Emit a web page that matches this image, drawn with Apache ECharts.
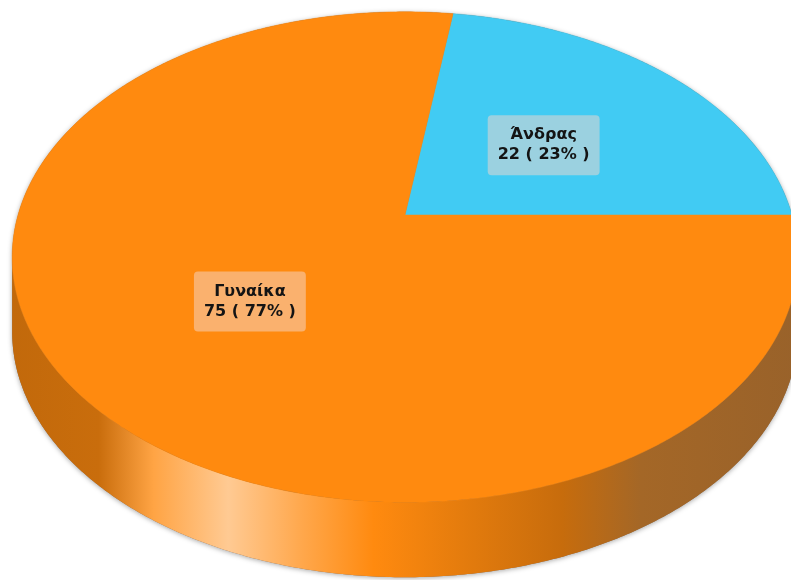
<!DOCTYPE html>
<html>
<head>
<meta charset="utf-8">
<script src="https://cdn.jsdelivr.net/npm/echarts/dist/echarts.min.js"></script>
<style>
  html, body { margin: 0; padding: 0; background: #ffffff; }
  #chart { width: 791px; height: 580px; }
</style>
</head>
<body>
<div id="chart"></div>
<script>
// Slice data
const categories = ['Άνδρας', 'Γυναίκα'];
const values = [22, 75];
const sliceColors = ['#41CBF3', '#FF8A0F'];

// Angular layout: counter-clockwise from 3 o'clock
const total = values.reduce((a, b) => a + b, 0);
const startAngle = 0;
const starts = [];
const spans = values.map(v => v / total * 360);
(function () { let a = startAngle; spans.forEach(s => { starts.push(a); a += s; }); })();

// Perspective disc: centre, radii, foreshortening and rim depth
const CX = 405, CY = 215, RX = 387, RY = 238, K = -0.1714, DEPTH = 75;
const LABEL_R = 0.5, LABEL_DY = 4;

function proj(r, deg, drop) {
  const t = deg * Math.PI / 180;
  const X = r * Math.cos(t), Y = -r * Math.sin(t);
  const w = 1 + K * Y;
  return [CX + RX * X / w, CY + RY * Y / w + (drop || 0)];
}
function arc(r, a0, a1, drop) {
  const pts = [];
  const n = Math.max(2, Math.ceil(Math.abs(a1 - a0) / 0.5));
  for (let i = 0; i <= n; i++) pts.push(proj(r, a0 + (a1 - a0) * i / n, drop));
  return pts;
}

// Silhouette angles of the visible front rim
const edgeDeg = Math.asin(-K) * 180 / Math.PI;
const frontA = 180 + edgeDeg, frontB = 360 - edgeDeg;

function hexRgb(h) { const n = parseInt(h.slice(1), 16); return [n >> 16 & 255, n >> 8 & 255, n & 255]; }
function mix(c1, c2, t) {
  const a = hexRgb(c1), b = hexRgb(c2);
  return 'rgb(' + a.map((v, i) => Math.round(v * (1 - t) + b[i] * t)).join(',') + ')';
}

function rimGradient(color) {
  const x0 = proj(1, frontA)[0], x1 = proj(1, frontB)[0];
  return new echarts.graphic.LinearGradient(x0, 0, x1, 0, [
    { offset: 0.00, color: mix(color, '#000000', 0.24) },
    { offset: 0.11, color: mix(color, '#000000', 0.21) },
    { offset: 0.18, color: mix(color, '#ffffff', 0.22) },
    { offset: 0.275, color: mix(color, '#ffffff', 0.55) },
    { offset: 0.37, color: mix(color, '#ffffff', 0.25) },
    { offset: 0.46, color: mix(color, '#ffffff', 0.0) },
    { offset: 0.58, color: mix(color, '#000000', 0.11) },
    { offset: 0.70, color: mix(color, '#000000', 0.22) },
    { offset: 0.80, color: mix(color, '#5a4a3a', 0.55) },
    { offset: 1.00, color: mix(color, '#5a4a3a', 0.62) }
  ], true);
}

function frontPart(a0, a1) {
  for (const off of [-360, 0, 360]) {
    const s = Math.max(a0, frontA + off), e = Math.min(a1, frontB + off);
    if (e > s) return [s, e];
  }
  return null;
}

const chart = echarts.init(document.getElementById('chart'), null, { renderer: 'canvas' });

chart.setOption({
  animation: false,
  series: [{
    type: 'custom',
    coordinateSystem: 'none',
    silent: true,
    data: values.map((v, i) => ({ value: [v, i], name: categories[i] })),
    renderItem: function (params, api) {
      const i = params.dataIndex;
      const v = api.value(0);
      const a0 = starts[i], a1 = starts[i] + v / total * 360;
      const color = sliceColors[i];
      const children = [];

      if (i === 0) {
        // soft halo under the whole disc
        const base = arc(1, frontB - 360, frontA).concat(arc(1, frontA, frontB, DEPTH));
        children.push({
          type: 'polygon', shape: { points: base },
          style: { fill: '#8a6a50', shadowBlur: 5, shadowColor: 'rgba(0,0,0,0.35)', shadowOffsetY: 1 },
          z2: 0
        });
      }

      const fp = frontPart(a0, a1);
      if (fp) {
        const pts = arc(1, fp[0], fp[1]).concat(arc(1, fp[1], fp[0], DEPTH));
        children.push({ type: 'polygon', shape: { points: pts }, style: { fill: rimGradient(color) }, z2: 1 });
      }

      const top = [proj(0, 0)].concat(arc(1, a0, a1));
      children.push({ type: 'polygon', shape: { points: top }, style: { fill: color, stroke: color, lineWidth: 0.5 }, z2: 2 });

      const mid = (a0 + a1) / 2;
      const lp = proj(LABEL_R, mid);
      const pct = Math.round(v / total * 100);
      children.push({
        type: 'text', x: lp[0], y: lp[1] + LABEL_DY, z2: 10,
        style: {
          text: categories[i] + '\n' + v + ' ( ' + pct + '% )',
          font: 'bold 16px "DejaVu Sans", sans-serif',
          fill: '#141414',
          align: 'center', verticalAlign: 'middle',
          lineHeight: 20,
          backgroundColor: mix(color, '#f5d7cd', 0.5),
          padding: [10, 10, 10, 10],
          borderRadius: 4
        }
      });
      return { type: 'group', children: children };
    }
  }]
});
</script>
</body>
</html>
